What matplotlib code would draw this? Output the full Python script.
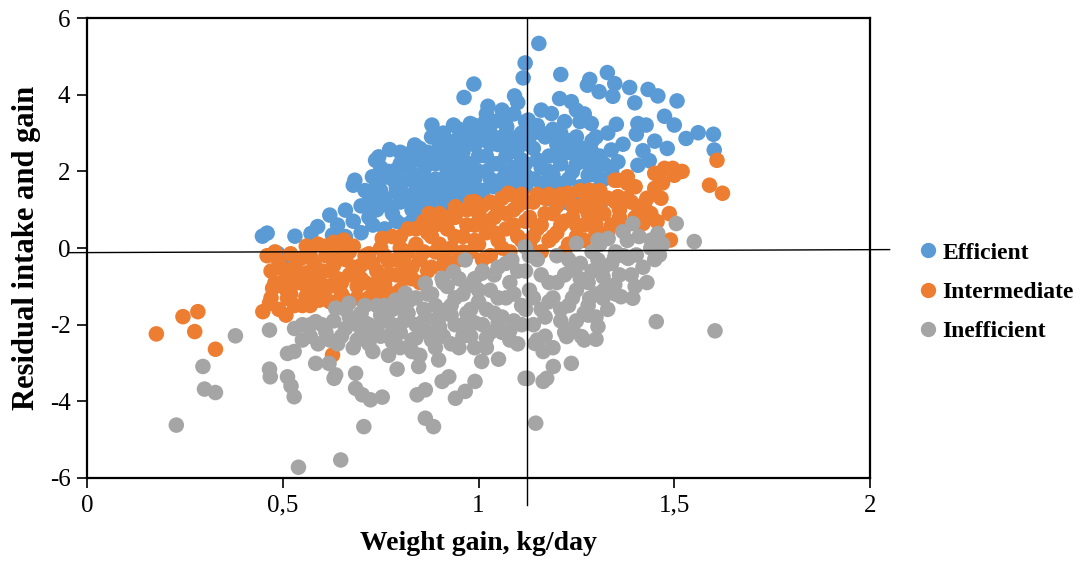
import matplotlib
matplotlib.use("Agg")
import matplotlib.pyplot as plt
from matplotlib.lines import Line2D

# --- data (weight gain kg/day, residual intake and gain) ---
# Efficient
eff_x = [0.448, 0.46, 0.487, 0.50, 0.531, 0.572, 0.589, 0.627, 0.62, 0.66, 0.684, 0.68, 0.729, 0.737, 0.745,
         0.773, 0.788, 0.824, 0.837, 0.83, 0.864, 0.881, 0.907, 0.919, 0.936, 0.963, 0.970, 0.979, 0.988, 0.991,
         1.017, 1.024, 1.066, 1.072, 1.08, 1.092, 1.114, 1.119, 1.127, 1.154, 1.186, 1.207, 1.21, 1.237, 1.259,
         1.278, 1.284, 1.288, 1.308, 1.329, 1.343, 1.348, 1.352, 1.386, 1.399, 1.403, 1.407, 1.428, 1.433, 1.45,
         1.458, 1.475, 1.482, 1.50, 1.507, 1.53, 1.561, 1.60, 1.602, 1.369, 1.339, 1.254, 1.288, 1.42, 1.436,
         1.407, 1.305, 1.356, 1.31,
         0.64, 0.66, 0.68, 0.70, 0.70, 0.72, 0.72, 0.74, 0.74, 0.76, 0.76, 0.77, 0.78, 0.79, 0.80, 0.80, 0.81,
         0.82, 0.83, 0.84, 0.84, 0.85, 0.86, 0.86, 0.87, 0.88, 0.88, 0.89, 0.90, 0.90, 0.91, 0.92, 0.92, 0.93,
         0.94, 0.94, 0.95, 0.96, 0.96, 0.97, 0.98, 0.98, 0.99, 1.00, 1.01, 1.01, 1.02, 1.03, 1.04, 1.04, 1.05,
         1.06, 1.06, 1.07, 1.08, 1.09, 1.09, 1.10, 1.10, 1.11, 1.12, 1.12,
         1.14, 1.14, 1.15, 1.16, 1.17, 1.17, 1.18, 1.19, 1.19, 1.20, 1.21, 1.22, 1.22, 1.23, 1.24, 1.25, 1.26,
         1.26, 1.27, 1.28, 1.29, 1.30, 1.31, 1.32, 1.33, 1.34, 1.29, 1.27,
         0.72, 0.73, 0.75, 0.75, 0.77, 0.78, 0.79, 0.80, 0.81, 0.82, 0.83, 0.83, 0.85, 0.85, 0.86, 0.87, 0.87,
         0.88, 0.89, 0.89, 0.90, 0.91, 0.91, 0.92, 0.93, 0.93, 0.94, 0.95, 0.95, 0.96, 0.97, 0.97, 0.98, 0.99,
         0.99, 1.00, 1.00, 1.01, 1.02, 1.02, 1.03, 1.03, 1.04, 1.05, 1.05, 1.06, 1.07, 1.07, 1.08, 1.09, 1.10,
         1.10, 1.11, 1.12, 1.12, 1.13,
         1.14, 1.15, 1.16, 1.16, 1.18, 1.18, 1.20, 1.20, 1.21, 1.23, 1.23, 1.25, 1.25, 1.27, 1.28, 1.30, 1.30,
         1.32, 1.24, 1.22, 1.18,
         0.71, 0.74, 0.76, 0.79, 0.81, 0.84, 0.86, 0.89, 0.92, 0.95]
eff_y = [0.31, 0.39, -0.14, -0.44, 0.31, 0.38, 0.56, 0.34, 0.86, 0.99, 1.77, 1.64, 1.86, 2.29, 2.38,
         2.57, 2.03, 2.47, 2.69, 1.95, 2.12, 3.21, 2.90, 2.47, 3.21, 3.93, 3.03, 3.25, 4.28, 2.69,
         3.30, 3.70, 3.44, 3.16, 2.82, 3.97, 4.44, 4.83, 3.34, 5.34, 3.51, 3.90, 4.53, 3.82, 3.30,
         4.25, 4.40, 3.25, 4.08, 4.58, 3.96, 4.29, 3.23, 4.19, 3.79, 2.97, 3.25, 3.21, 4.14, 2.79,
         3.97, 3.44, 2.60, 3.21, 3.84, 2.86, 3.01, 2.97, 2.56, 2.71, 2.56, 2.63, 2.54, 2.54, 2.28,
         2.16, 2.21, 2.25, 1.07,
         0.6, 0.3, 0.7, 1.1, 0.4, 0.8, 1.4, 1.7, 1.0, 0.5, 1.3, 2.0, 0.9, 1.6, 1.2, 2.2, 0.6,
         1.8, 1.0, 1.5, 2.3, 0.8, 1.2, 1.9, 2.5, 1.6, 0.95, 2.2, 1.3, 2.7, 1.8, 1.1, 2.3, 1.5,
         2.0, 2.8, 1.3, 1.7, 2.5, 2.1, 1.4, 2.9, 1.8, 2.4, 1.5, 3.1, 2.0, 2.7, 1.6, 3.3, 2.2,
         1.8, 2.9, 2.4, 1.6, 2.1, 3.5, 2.6, 1.7, 3.0, 2.2, 1.6,
         1.8, 2.6, 3.2, 2.1, 2.9, 1.6, 2.4, 3.1, 1.9, 2.7, 2.2, 3.3, 1.7, 2.5, 2.0, 2.9, 1.6,
         2.3, 3.5, 1.9, 2.8, 1.5, 2.4, 1.8, 3.0, 2.0, 1.1, 1.3,
         1.1, 0.6, 1.5, 2.1, 1.1, 1.8, 0.7, 2.5, 1.4, 2.1, 0.7, 1.3, 1.7, 2.6, 1.0, 1.4, 2.2,
         2.9, 1.2, 1.8, 2.4, 1.5, 3.0, 2.0, 1.2, 2.6, 1.7, 2.3, 3.1, 1.5, 1.9, 2.7, 2.2, 1.6,
         3.2, 2.0, 2.8, 1.4, 2.4, 3.5, 1.8, 3.0, 2.2, 1.6, 2.7, 3.6, 2.0, 3.2, 2.5, 1.8, 2.9,
         3.8, 2.3, 1.9, 3.3, 2.7,
         3.0, 2.3, 1.7, 3.6, 2.0, 3.0, 1.7, 2.4, 3.0, 1.8, 2.8, 2.2, 3.6, 2.6, 2.2, 2.9, 1.9,
         2.2, 1.4, 1.2, 1.3,
         1.5, 1.25, 1.85, 1.45, 1.75, 1.2, 1.55, 1.45, 1.75, 1.5]

# Intermediate
mid_x = [0.177, 0.245, 0.275, 0.283, 0.328, 0.449, 0.508, 0.474, 0.512, 0.466, 0.559, 0.593, 0.627, 1.609,
         1.59, 1.623, 1.475, 1.496, 1.45, 1.356, 1.38, 1.45, 1.466, 1.487, 1.456, 1.49, 1.42, 1.424, 1.356,
         1.38, 1.348, 1.284, 1.305, 1.297, 1.229, 0.656, 0.754, 0.873, 0.941, 0.991, 1.076,
         0.46, 0.47, 0.48, 0.49, 0.50, 0.51, 0.52, 0.52, 0.53, 0.54, 0.55, 0.55, 0.56, 0.56, 0.57, 0.58,
         0.58, 0.59, 0.60, 0.60, 0.61, 0.62, 0.63, 0.63, 0.64, 0.65, 0.66, 0.67, 0.68, 0.69, 0.70, 0.71,
         0.72, 0.73, 0.74, 0.75, 0.76, 0.77, 0.78, 0.79, 0.80, 0.80, 0.81, 0.82, 0.83, 0.84, 0.85, 0.86,
         0.87, 0.88, 0.89, 0.90, 0.91, 0.92, 0.93, 0.94, 0.95, 0.96, 0.97, 0.98, 0.99, 1.00, 1.01, 1.02,
         1.03, 1.04, 1.05, 1.06, 1.07, 1.08, 1.09, 1.10, 1.11, 1.12, 1.13, 1.14, 1.15, 1.16, 1.17, 1.18,
         1.19, 1.20, 1.21, 1.22, 1.23, 1.24, 1.25, 1.26, 1.27, 1.28, 1.30, 1.31, 1.33, 1.34, 1.36, 1.37,
         1.39, 1.40,
         0.47, 0.48, 0.49, 0.50, 0.51, 0.53, 0.53, 0.54, 0.56, 0.57, 0.57, 0.59, 0.60, 0.61, 0.62, 0.62,
         0.64, 0.65, 0.66, 0.67, 0.68, 0.69, 0.70, 0.71, 0.72, 0.73, 0.74, 0.75, 0.76, 0.77, 0.78, 0.79,
         0.80, 0.81, 0.82, 0.83, 0.84, 0.85, 0.86, 0.87, 0.88, 0.89, 0.90, 0.91, 0.92, 0.93, 0.94, 0.95,
         0.96, 0.97, 0.98, 0.99, 1.00, 1.01, 1.02, 1.03, 1.04, 1.05, 1.06, 1.07, 1.08, 1.09, 1.10, 1.11,
         1.12, 1.13, 1.14, 1.15, 1.16, 1.17, 1.18, 1.19, 1.20, 1.21, 1.22, 1.23, 1.24, 1.25, 1.26, 1.27,
         1.28, 1.29, 1.30, 1.31, 1.32, 1.33, 1.35, 1.36, 1.38, 1.40, 1.41, 1.43, 1.44, 1.47, 1.50, 1.52]
mid_y = [-2.24, -1.79, -2.18, -1.66, -2.64, -1.66, -1.75, -1.05, -1.31, -1.44, -1.27, -1.36, -2.79, 2.29,
         1.64, 1.43, 2.08, 2.08, 1.95, 1.77, 1.86, 1.56, 1.30, 0.90, 0.69, 0.21, 0.64, 1.16, 1.34,
         1.69, 1.77, 1.51, 1.21, 0.82, 1.43, 0.21, 0.25, 0.90, 1.08, 1.21, 1.43,
         -0.2, -0.6, -0.9, -0.35, -1.0, -0.7, -0.15, -1.2, -0.5, -0.9, -0.25, -1.5, 0.05, -0.65, -1.1, -0.4,
         -0.85, 0.1, -1.3, -0.6, -0.2, -1.0, -0.45, 0.15, -0.8, -1.2, -0.3, -0.7, 0.05, -1.0, -0.45, -0.9,
         -0.15, -1.2, -0.6, 0.0, -0.95, -0.35, 0.3, -0.7, -1.1, 0.0, -0.4, 0.5, -0.8, 0.1, -0.3, 0.7,
         -0.6, 0.3, -0.1, 0.9, -0.45, 0.5, 0.0, 0.8, -0.3, 0.3, 1.0, -0.1, 0.6, 0.1, 1.1, 0.4,
         -0.2, 0.8, 0.2, 1.3, 0.5, -0.1, 1.0, 0.3, 1.4, 0.7, 0.1, 1.2, 0.5, -0.1, 0.9, 1.4,
         0.3, 1.1, 0.6, -0.1, 1.3, 0.8, 0.3, 1.1, 0.6, 1.4, 0.4, 0.9, 1.3, 0.6, 1.0, 0.5,
         1.2, 0.8,
         -1.3, -0.1, -1.6, -0.55, -1.1, -0.8, -1.5, -0.3, -1.0, -0.2, -1.5, -0.7, -0.95, 0.05, -0.6, -1.4,
         -0.1, -0.9, -1.35, -0.1, -0.5, -1.3, -0.8, -0.2, -1.3, -0.4, -0.9, -1.25, -0.2, -0.7, -1.2, -0.3,
         0.3, -0.8, -0.1, -0.5, 0.5, -0.9, -0.1, 0.4, -0.5, 0.6, 0.1, -0.2, 0.8, -0.4, 0.3, 1.0,
         -0.1, 0.6, 1.2, 0.2, 0.9, -0.3, 0.7, 1.2, 0.4, 1.0, 0.0, 0.9, 1.4, 0.6, 1.1, 0.2,
         1.2, 0.8, 0.3, 1.4, 0.6, 1.3, 0.2, 0.9, 0.4, 1.4, 0.7, 0.1, 1.1, 0.6, 1.5, 0.2,
         0.9, 1.2, 0.6, 1.5, 0.9, 0.4, 1.2, 0.8, 1.3, 1.6, 1.0, 1.3, 0.9, 1.7, 1.9, 2.0]

# Inefficient
ineff_x = [0.379, 0.296, 0.30, 0.328, 0.228, 0.466, 0.466, 0.468, 0.512, 0.521, 0.529, 0.512, 0.529, 0.584,
           0.618, 0.631, 0.54, 0.648, 0.584, 0.635, 0.707, 0.864, 0.885, 0.686, 0.686, 0.703, 0.724, 0.754,
           0.843, 0.864, 0.907, 0.924, 0.941, 0.966, 0.991, 1.051, 1.008, 0.898, 0.847, 0.792, 0.635, 1.119,
           1.454, 1.604, 1.305, 1.30, 1.263, 1.225, 1.28, 1.144, 1.165, 1.237, 1.191, 1.174, 1.165, 1.125,
           1.146, 1.505, 1.551, 1.462, 1.441, 1.458, 1.394, 1.369, 1.331, 1.305, 1.25, 1.382, 1.403, 1.348,
           1.305, 1.237, 1.318, 1.348, 1.394, 1.364, 1.318, 1.284, 0.966, 0.936, 0.907, 0.864, 0.813, 0.788,
           0.669, 1.008, 1.085, 1.119,
           0.53, 0.55, 0.57, 0.59, 0.61, 0.63, 0.64, 0.66, 0.68, 0.67,
           0.70, 0.70, 0.72, 0.73, 0.74, 0.75, 0.76, 0.77, 0.78, 0.79, 0.80, 0.81, 0.82, 0.83, 0.84, 0.85,
           0.86, 0.87, 0.88, 0.89, 0.90, 0.91, 0.92, 0.93, 0.94, 0.95, 0.96, 0.97, 0.98, 0.99, 1.00, 1.01,
           1.02, 1.03, 1.04, 1.05, 1.06, 1.07, 1.08, 1.09, 1.10, 1.11, 1.12, 1.13, 1.14, 1.15, 1.16, 1.17,
           1.18, 1.19, 1.20, 1.21, 1.22, 1.23, 1.24, 1.25, 1.26, 1.27, 1.28, 1.29, 1.30, 1.32, 1.33, 1.35,
           1.36, 1.38, 1.40, 1.42, 1.44,
           0.55, 0.57, 0.60, 0.62, 0.65, 0.66, 0.69, 0.69, 0.71, 0.72, 0.74, 0.76, 0.77, 0.78, 0.79, 0.80,
           0.82, 0.83, 0.84, 0.85, 0.86, 0.87, 0.88, 0.89, 0.90, 0.91, 0.92, 0.93, 0.94, 0.95, 0.96, 0.97,
           0.98, 0.99, 1.00, 1.01, 1.02, 1.03, 1.04, 1.05, 1.06, 1.07, 1.08, 1.09, 1.10, 1.11, 1.12, 1.13,
           1.14, 1.15, 1.16, 1.17, 1.18, 1.19, 1.20, 1.21, 1.22, 1.23, 1.24, 1.25, 1.26, 1.27, 1.28, 1.29,
           1.30, 1.31, 1.32, 1.34, 1.35, 1.37, 1.39, 1.41, 1.43, 1.45, 1.47,
           0.71, 0.73, 0.75, 0.78, 0.81, 0.84, 0.87, 0.90, 0.93, 0.96, 0.99, 1.02, 1.05, 1.08]
ineff_y = [-2.29, -3.09, -3.68, -3.77, -4.62, -2.14, -3.16, -3.36, -3.36, -3.60, -3.88, -2.75, -2.70, -3.01,
           -3.01, -3.40, -5.72, -5.53, -1.92, -1.57, -4.66, -4.44, -4.66, -3.27, -3.66, -3.83, -3.96, -3.89,
           -3.83, -3.70, -3.48, -3.36, -3.92, -3.74, -3.48, -2.90, -2.96, -2.92, -3.09, -3.16, -3.31, -3.40,
           -1.92, -2.16, -2.05, -2.38, -2.31, -2.31, -1.75, -2.49, -2.70, -3.01, -3.09, -3.40, -3.48, -3.40,
           -4.57, 0.64, 0.17, -0.18, 0.21, 0.38, 0.64, 0.43, 0.25, 0.21, 0.12, -0.27, -0.18, -0.23,
           -0.31, -0.57, -0.75, -0.96, -1.31, -1.27, -1.31, -1.31, -0.31, -0.62, -0.79, -0.92, -1.18, -1.36,
           -1.44, -0.66, -0.31, 0.03,
           -2.1, -2.4, -2.0, -2.5, -2.2, -1.9, -2.5, -2.1, -2.6, -1.8,
           -1.7, -2.3, -2.0, -2.7, -1.5, -2.3, -1.9, -2.8, -1.6, -2.2, -2.6, -1.9, -1.4, -2.4, -2.0, -2.8,
           -1.6, -2.2, -1.2, -2.6, -1.8, -2.3, -1.0, -1.5, -2.0, -2.6, -1.2, -1.7, -2.3, -0.8, -1.4, -2.0,
           -2.6, -1.1, -1.7, -0.5, -2.2, -1.3, -0.9, -1.9, -2.5, -1.5, -0.6, -1.1, -2.0, -0.3, -1.6, -2.3,
           -0.9, -1.3, -0.2, -1.9, -0.7, -1.5, -2.1, -1.1, -0.4, -1.7, -0.9, -0.1, -1.2, -0.5, -1.6, -0.1,
           -0.7, 0.2, -1.0, -0.5, 0.0,
           -2.0, -2.3, -2.0, -2.4, -2.3, -1.6, -2.0, -2.4, -1.5, -2.5, -2.1, -1.5, -2.3, -2.0, -1.4, -2.2,
           -1.7, -2.7, -1.3, -2.2, -1.9, -1.2, -2.4, -1.5, -2.1, -0.9, -1.6, -2.5, -1.3, -0.8, -2.0, -1.0,
           -1.6, -2.6, -1.1, -0.6, -1.6, -2.2, -0.7, -1.3, -1.8, -0.4, -2.4, -1.2, -0.6, -2.0, -1.6, -0.2,
           -1.3, -2.4, -0.7, -1.8, -1.4, -2.6, -0.9, -1.6, -2.2, -0.3, -1.3, -1.9, -0.8, -2.4, -1.5, -0.6,
           -1.8, 0.1, -1.1, -0.4, -1.2, -0.2, -0.7, 0.3, -0.9, -0.3, 0.1,
           -1.95, -2.2, -1.75, -2.45, -1.65, -2.35, -1.85, -2.05, -1.75, -2.3, -1.95, -2.35, -1.95, -2.15]

labels = ["Efficient", "Intermediate", "Inefficient"]
colors = ["#5B9BD5", "#ED7D31", "#A5A5A5"]

x_ticks = [0, 0.5, 1, 1.5, 2]
x_tick_labels = ["0", "0,5", "1", "1,5", "2"]
y_ticks = [-6, -4, -2, 0, 2, 4, 6]

mean_gain = 1.125
line_y = [-0.12, -0.04]

# --- RYSOWANIE ---
plt.rcParams['font.family'] = ['Liberation Serif', 'DejaVu Serif']
plt.rcParams['axes.unicode_minus'] = False

fig = plt.figure(figsize=(10.8, 5.67), dpi=100)
ax = fig.add_axes([0.0806, 0.157, 0.725, 0.811])

for xs, ys, c in zip([eff_x, mid_x, ineff_x], [eff_y, mid_y, ineff_y], colors):
    ax.scatter(xs, ys, s=125, color=c, edgecolors='none', zorder=2)

# crosshair lines
ax.plot([-0.045, 2.05], line_y, color='black', lw=1.0, clip_on=False, zorder=3)
ax.plot([mean_gain, mean_gain], [6, -6.7], color='black', lw=1.0, clip_on=False, zorder=3)

ax.set_xlim(0, 2)
ax.set_ylim(-6, 6)
ax.set_xticks(x_ticks)
ax.set_xticklabels(x_tick_labels)
ax.set_yticks(y_ticks)
ax.tick_params(direction='out', length=7, width=1.2, labelsize=18, pad=5)
for sp in ax.spines.values():
    sp.set_linewidth(1.6)

ax.set_xlabel("Weight gain, kg/day", fontsize=20, fontweight='bold', labelpad=10)
ax.set_ylabel("Residual intake and gain", fontsize=22, fontweight='bold', labelpad=6)

handles = [Line2D([], [], marker='o', ls='none', color=c, markersize=10) for c in colors]
ax.legend(handles, labels, loc='center left', bbox_to_anchor=(1.05, 0.404), frameon=False,
          handlelength=0.6, handletextpad=0.3, labelspacing=0.75, borderpad=0,
          prop={'weight': 'bold', 'size': 17})

fig.savefig("out.png", dpi=100)
